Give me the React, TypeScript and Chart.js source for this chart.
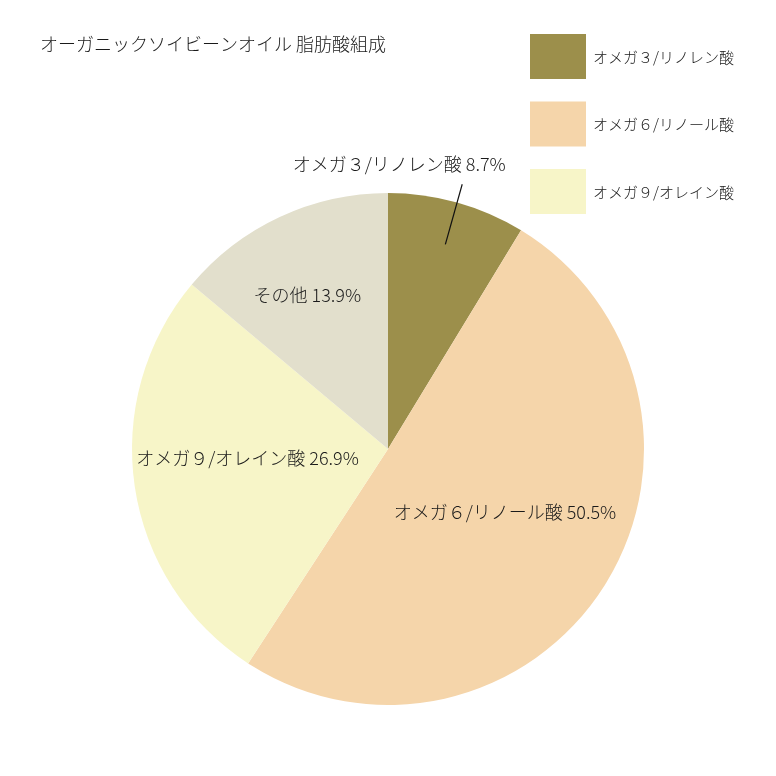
import React, { useEffect, useRef } from "react";
import { Chart, registerables } from "chart.js";

Chart.register(...registerables);

const title = "オーガニックソイビーンオイル 脂肪酸組成";
const categories = ["オメガ３/リノレン酸", "オメガ６/リノール酸", "オメガ９/オレイン酸", "その他"];
const values = [8.7, 50.5, 26.9, 13.9];
const colors = ["#9c8f4b", "#f5d5aa", "#f7f5c8", "#e2dfcc"];
const legendCount = 3;

// label placement styles: radial fraction & angle tweak (deg) per slice
const labelFrac = [0, 0.52, 0.55, 0.68];
const labelAngleAdj = [0, -3.7, 4.8, -2.6];

const FONT = '"Noto Sans CJK JP", "Noto Sans", sans-serif';
const W = 300;

const labelPlugin = {
  id: "customLabels",
  afterDraw(chart: any) {
    const ctx = chart.ctx as CanvasRenderingContext2D;
    const meta = chart.getDatasetMeta(0);
    ctx.save();
    // title
    ctx.fillStyle = "#1a1a1a";
    ctx.font = `${W} 18px ${FONT}`;
    ctx.textAlign = "left";
    ctx.textBaseline = "middle";
    ctx.fillText(title, 40, 44);

    // legend
    ctx.font = `${W} 15px ${FONT}`;
    for (let i = 0; i < legendCount; i++) {
      const y = 34 + i * 67.5;
      ctx.fillStyle = colors[i];
      ctx.fillRect(530, y, 56, 45);
      ctx.fillStyle = "#1a1a1a";
      ctx.textAlign = "left";
      ctx.textBaseline = "middle";
      ctx.fillText(categories[i], 593, y + 23);
    }

    // slice labels
    ctx.font = `${W} 18px ${FONT}`;
    meta.data.forEach((arc: any, i: number) => {
      const { x, y, startAngle, endAngle, outerRadius } = arc.getProps(
        ["x", "y", "startAngle", "endAngle", "outerRadius"],
        true
      );
      const mid = (startAngle + endAngle) / 2;
      const text = `${categories[i]} ${values[i]}%`;
      ctx.fillStyle = "#1a1a1a";
      ctx.textAlign = "center";
      ctx.textBaseline = "middle";
      if (i === 0) {
        const x1 = x + Math.cos(mid) * outerRadius * 0.83;
        const y1 = y + Math.sin(mid) * outerRadius * 0.83;
        const x2 = x + Math.cos(mid) * outerRadius * 1.074;
        const y2 = y + Math.sin(mid) * outerRadius * 1.074;
        ctx.strokeStyle = "#111";
        ctx.lineWidth = 1.2;
        ctx.beginPath();
        ctx.moveTo(x1, y1);
        ctx.lineTo(x2, y2);
        ctx.stroke();
        ctx.fillText(text, x2 - 63, y2 - 20);
      } else {
        const a = mid + (labelAngleAdj[i] * Math.PI) / 180;
        const r = outerRadius * labelFrac[i];
        ctx.fillText(text, x + Math.cos(a) * r, y + Math.sin(a) * r);
      }
    });
    ctx.restore();
  },
};

export default function App() {
  const ref = useRef<HTMLCanvasElement>(null);
  useEffect(() => {
    if (!ref.current) return;
    const chart = new Chart(ref.current, {
      type: "pie",
      data: {
        labels: categories,
        datasets: [
          {
            data: values,
            backgroundColor: colors,
            borderWidth: 0,
          },
        ],
      },
      options: {
        animation: false,
        responsive: false,
        events: [],
        layout: { padding: { left: 132, right: 132, top: 193, bottom: 71 } },
        plugins: {
          legend: { display: false },
          title: { display: false },
          tooltip: { enabled: false },
        },
      },
      plugins: [labelPlugin],
    });
    return () => chart.destroy();
  }, []);
  return (
    <div style={{ position: "fixed", left: 0, top: 0, width: 776, height: 776, background: "#fff" }}>
      <canvas ref={ref} width={776} height={776} style={{ width: 776, height: 776 }} />
    </div>
  );
}
